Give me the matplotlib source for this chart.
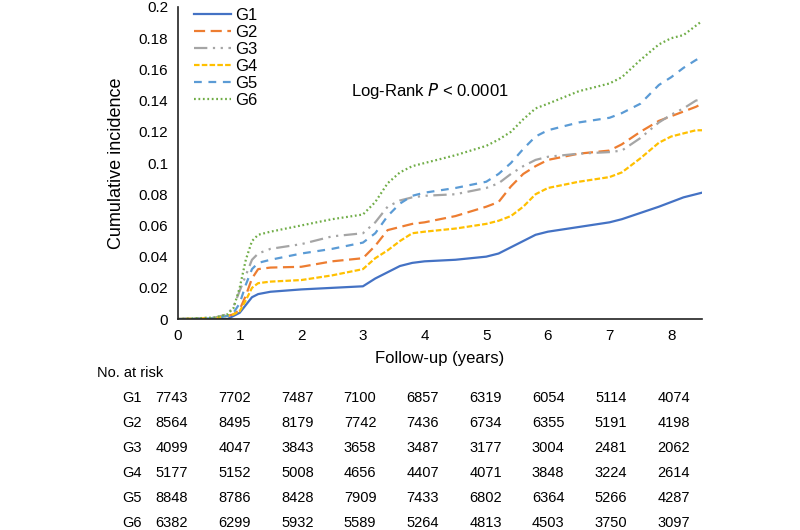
import numpy as np
import matplotlib
matplotlib.use("Agg")
import matplotlib.pyplot as plt

plt.rcParams['font.family'] = ['Liberation Sans', 'DejaVu Sans']

# follow-up time grid (years)
t = [0, 0.6, 0.8, 0.9, 1.0, 1.1, 1.2, 1.3, 1.5, 2.0, 2.5, 3.0, 3.2, 3.4, 3.6, 3.8, 4.0,
     4.5, 5.0, 5.2, 5.4, 5.6, 5.8, 6.0, 6.5, 7.0, 7.2, 7.5, 7.8, 8.0, 8.2, 8.4, 8.5]

# cumulative incidence per group
g1 = [0, 0, 0, 0.002, 0.004, 0.009, 0.014, 0.016, 0.0175, 0.019, 0.020, 0.021, 0.026, 0.030,
      0.034, 0.036, 0.037, 0.038, 0.040, 0.042, 0.046, 0.050, 0.054, 0.056, 0.059, 0.062,
      0.064, 0.068, 0.072, 0.075, 0.078, 0.080, 0.081]
g2 = [0, 0.0005, 0.002, 0.003, 0.006, 0.015, 0.026, 0.032, 0.033, 0.0335, 0.037, 0.039,
      0.047, 0.057, 0.059, 0.061, 0.062, 0.066, 0.072, 0.075, 0.085, 0.093, 0.098, 0.102,
      0.106, 0.108, 0.112, 0.120, 0.127, 0.130, 0.133, 0.136, 0.138]
g3 = [0, 0.001, 0.003, 0.008, 0.018, 0.028, 0.038, 0.042, 0.045, 0.048, 0.053, 0.055, 0.062,
      0.072, 0.076, 0.078, 0.079, 0.080, 0.084, 0.087, 0.093, 0.098, 0.102, 0.104, 0.106,
      0.107, 0.108, 0.116, 0.126, 0.131, 0.135, 0.140, 0.141]
g4 = [0, 0.0005, 0.002, 0.003, 0.005, 0.012, 0.020, 0.023, 0.024, 0.025, 0.028, 0.032, 0.039,
      0.044, 0.050, 0.055, 0.056, 0.058, 0.061, 0.063, 0.066, 0.072, 0.080, 0.084, 0.088,
      0.091, 0.094, 0.103, 0.113, 0.117, 0.119, 0.121, 0.121]
g5 = [0, 0.0005, 0.002, 0.004, 0.010, 0.022, 0.032, 0.036, 0.038, 0.042, 0.045, 0.049, 0.055,
      0.066, 0.074, 0.079, 0.081, 0.084, 0.088, 0.093, 0.100, 0.109, 0.117, 0.121, 0.126,
      0.129, 0.132, 0.138, 0.150, 0.155, 0.161, 0.166, 0.168]
g6 = [0, 0.001, 0.003, 0.007, 0.020, 0.038, 0.050, 0.054, 0.056, 0.060, 0.064, 0.067, 0.075,
      0.087, 0.094, 0.098, 0.100, 0.105, 0.111, 0.115, 0.120, 0.128, 0.135, 0.138, 0.146,
      0.151, 0.155, 0.166, 0.176, 0.180, 0.182, 0.188, 0.191]

groups = ['G1', 'G2', 'G3', 'G4', 'G5', 'G6']
at_risk_years = [0, 1, 2, 3, 4, 5, 6, 7, 8]
at_risk = {
    'G1': [7743, 7702, 7487, 7100, 6857, 6319, 6054, 5114, 4074],
    'G2': [8564, 8495, 8179, 7742, 7436, 6734, 6355, 5191, 4198],
    'G3': [4099, 4047, 3843, 3658, 3487, 3177, 3004, 2481, 2062],
    'G4': [5177, 5152, 5008, 4656, 4407, 4071, 3848, 3224, 2614],
    'G5': [8848, 8786, 8428, 7909, 7433, 6802, 6364, 5266, 4287],
    'G6': [6382, 6299, 5932, 5589, 5264, 4813, 4503, 3750, 3097],
}

colors = ['#4472C4', '#ED7D31', '#A5A5A5', '#FFC000', '#5B9BD5', '#70AD47']
styles = ['-', (0, (5, 2.5)), (0, (6, 2.5, 1, 2.5, 1, 2.5)), (0, (2.5, 1)),
          (0, (3.5, 3)), (0, (0.8, 1.2))]

fig = plt.figure(figsize=(8, 5.3), dpi=100)
ax = fig.add_axes([0.2225, 0.398, 0.655, 0.5888])

for name, vals, c, ls in zip(groups, [g1, g2, g3, g4, g5, g6], colors, styles):
    ax.plot(t, vals, color=c, linestyle=ls, linewidth=1.6, label=name)

ax.set_xlim(0, 8.5)
ax.set_ylim(0, 0.2)
ax.set_xticks(range(0, 9))
ax.set_yticks(np.arange(0, 0.201, 0.02))
ax.set_yticklabels(['0', '0.02', '0.04', '0.06', '0.08', '0.1', '0.12', '0.14',
                    '0.16', '0.18', '0.2'])
ax.tick_params(length=0, labelsize=11, pad=7)
for s in ['top', 'right']:
    ax.spines[s].set_visible(False)
for s in ['left', 'bottom']:
    ax.spines[s].set_color('#222222')
    ax.spines[s].set_linewidth(1.2)

ax.set_xlabel('Follow-up (years)', fontsize=12, labelpad=6)
ax.set_ylabel('Cumulative incidence', fontsize=13, labelpad=10)

ax.legend(loc='upper left', bbox_to_anchor=(0.008, 1.035), frameon=False, fontsize=12,
          handlelength=2.2, handletextpad=0.3, labelspacing=0.12, borderaxespad=0.3)

ax.text(0.33, 0.73, 'Log-Rank $\\it{P}$ < 0.0001', transform=ax.transAxes, fontsize=12,
        ha='left', va='center')

# number at risk table
fig.text(97 / 800, 1 - 373 / 530, 'No. at risk', fontsize=10.5, va='center', ha='left')
for r, name in enumerate(groups):
    y = 1 - (398 + r * 25) / 530
    fig.text(122 / 800, y, name, fontsize=10.5, va='center', ha='left')
    for i, yr in enumerate(at_risk_years):
        x = (172 + yr * 62.7) / 800
        fig.text(x, y, str(at_risk[name][i]), fontsize=10.5, va='center', ha='center')

fig.savefig('out.png', dpi=100)
